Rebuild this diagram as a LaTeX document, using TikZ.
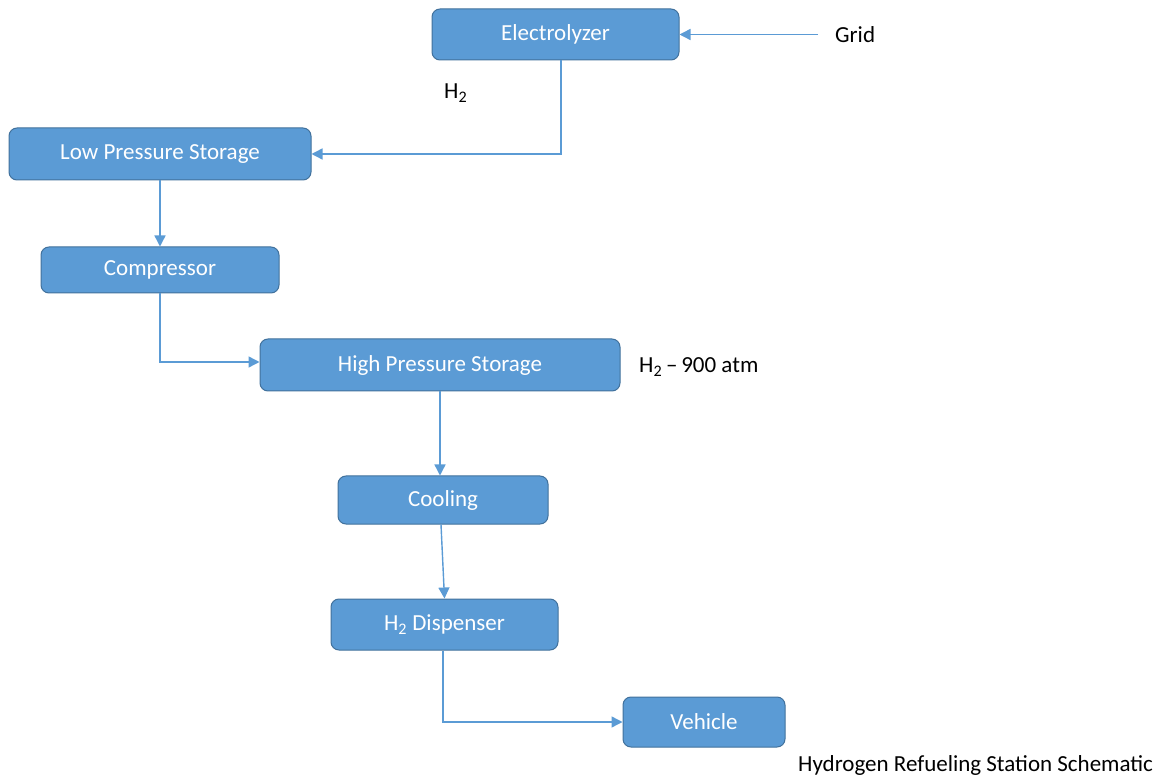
\documentclass[tikz,border=0pt]{standalone}
\usepackage{fontspec}
\setmainfont{Carlito}
\usetikzlibrary{arrows.meta}
\definecolor{boxfill}{HTML}{5B9BD5}
\definecolor{boxline}{HTML}{41719C}
\definecolor{arr}{HTML}{5B9BD5}
\begin{document}
\begin{tikzpicture}[x=1pt,y=-1pt,
  blk/.style={draw=boxline,fill=boxfill,line width=1pt,rounded corners=8pt,inner sep=0pt,
    text=white,font=\fontsize{23}{26}\selectfont,align=center},
  lbl/.style={inner sep=0pt,text=black,font=\fontsize{23}{26}\selectfont},
  flow/.style={draw=arr,line width=1.4pt,-{Triangle[length=11pt,width=11pt]}}]
\useasboundingbox (0,0) rectangle (1160,775);
\node[blk,minimum width=247pt,minimum height=51pt] (elec) at (555.5,34.5) {Electrolyzer};
\node[blk,minimum width=302pt,minimum height=52pt] (lps) at (160,154) {Low Pressure Storage};
\node[blk,minimum width=238pt,minimum height=46pt] (comp) at (160,270) {Compressor};
\node[blk,minimum width=360pt,minimum height=52pt] (hps) at (440,365) {High Pressure Storage};
\node[blk,minimum width=210pt,minimum height=48pt] (cool) at (443,500) {Cooling};
\node[blk,minimum width=227pt,minimum height=51pt] (disp) at (444.5,624.5) {H\textsubscript{2} Dispenser};
\node[blk,minimum width=162pt,minimum height=50pt] (veh) at (704,722) {Vehicle};
\node[lbl,anchor=west,inner xsep=17pt] (grid) at (818,34.5) {Grid};
\node[lbl,anchor=west] (h2) at (444,93) {H\textsubscript{2}};
\node[lbl,anchor=west] (h2p) at (639,367) {H\textsubscript{2}\,–\,900 atm};
\node[lbl,anchor=west] (cap) at (798,765) {Hydrogen Refueling Station Schematic};
\draw[flow] (grid.west) -- (elec.east);
\draw[flow] ([xshift=5.5pt]elec.south) |- (lps.east);
\draw[flow] (lps.south) -- (comp.north);
\draw[flow] (comp.south) |- ([yshift=3pt]hps.west);
\draw[flow] (hps.south) -- ([xshift=-3pt]cool.north);
\draw[flow] ([xshift=-2pt]cool.south) -- (disp.north);
\draw[flow] ([xshift=-1.5pt]disp.south) |- (veh.west);
\end{tikzpicture}
\end{document}
